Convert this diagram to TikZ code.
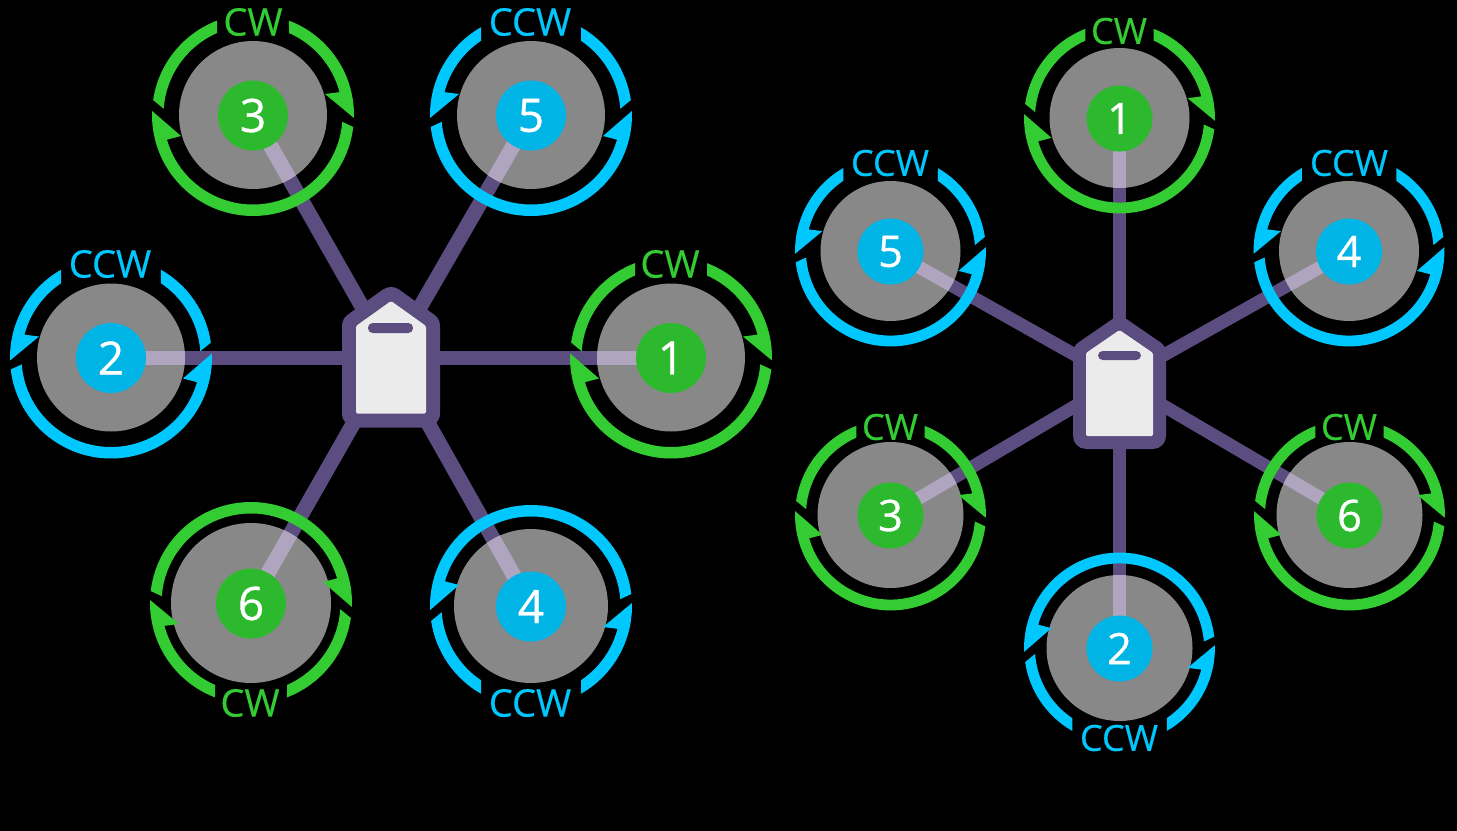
\documentclass[tikz,border=0pt]{standalone}
\usepackage{fontspec}
\setmainfont{Open Sans}
\newfontfamily\digitface[RawFeature={embolden=0.7}]{Open Sans}
\newfontfamily\labelface[RawFeature={embolden=0.4}]{Open Sans}
\definecolor{ringgreen}{HTML}{33CC33}
\definecolor{badgegreen}{HTML}{2DB92D}
\definecolor{ringblue}{HTML}{00C8FF}
\definecolor{badgeblue}{HTML}{00B4E6}
\definecolor{discgray}{HTML}{888888}
\definecolor{armpurple}{HTML}{5C4D80}
\definecolor{armlight}{HTML}{AFA5BE}
\definecolor{hubwhite}{HTML}{EBEBEB}
\tikzset{
  disc/.style={circle,fill=discgray,draw=none,inner sep=0pt},
  badge/.style={circle,draw=none,inner sep=0pt,text=white,yshift=-0.4pt},
  armline/.style={draw=armpurple,line cap=butt},
  armtop/.style={draw=armlight,line cap=butt},
  hubedge/.style={draw=armpurple,fill=armpurple,line join=round},
  hubface/.style={fill=hubwhite,draw=none,rounded corners=1pt},
  hubbar/.style={fill=armpurple,draw=none,rounded corners=3.5pt},
  biglabel/.style={font=\labelface\fontsize{28.5}{29}\selectfont},
  smalllabel/.style={font=\labelface\fontsize{27}{27}\selectfont},
  bigdigit/.style={font=\digitface\fontsize{34.5}{35}\selectfont},
  smalldigit/.style={font=\digitface\fontsize{32.5}{33}\selectfont},
}
% #1 name, #2 hub, #3 x, #4 y, #5 ring scale, #6 disc radius, #7 badge radius,
% #8 ring colour, #9 badge colour
\newcommand{\rotorA}[9]{%
  \coordinate (#1) at (#3,#4);
  \def\rName{#1}\def\rHub{#2}\def\rScale{#5}\def\rDisc{#6}\def\rBadge{#7}\def\rCol{#8}\def\rBCol{#9}%
  \rotorB}
% #1 digit, #2 dir, #3 rotation, #4 gap half width, #5 text, #6 label x, #7 label y, #8 armwidth, #9 size style
\newcommand{\rotorB}[9]{%
  \draw[armline,line width=#8*0.75pt] (\rHub) -- (\rName);
  \node[disc,minimum size=2*\rDisc*0.75pt] (d\rName) at (\rName) {};
  \begin{scope}
    \clip (\rName) circle[radius=\rDisc];
    \draw[armtop,line width=#8*0.75pt] (\rHub) -- (\rName);
  \end{scope}
  \pgfmathsetmacro{\tho}{acos(#4/101)}
  \pgfmathsetmacro{\thi}{acos(#4/89.5)}
  \begin{scope}[shift={(\rName)},yscale=-1,scale=\rScale,xscale=#2,rotate=#3]
    \fill[\rCol] ({180-\tho}:101) arc[start angle={180-\tho},end angle=171.5,radius=101]
      -- (176:89.5) arc[start angle=176,end angle={180-\thi},radius=89.5] -- cycle;
    \fill[\rCol] (\tho:101) arc[start angle=\tho,end angle=-1.7,radius=101]
      -- (72,21) -- (14.8:89.5) arc[start angle=14.8,end angle=\thi,radius=89.5] -- cycle;
    \fill[\rCol] (-6.8:101) arc[start angle=-6.8,end angle=-182.3,radius=101]
      -- (-72,-21) -- (-164:89.5) arc[start angle=-164,end angle=-4.4,radius=89.5] -- cycle;
  \end{scope}
  \node[text=\rCol,inner sep=0pt,#9label] (t\rName) at (#6,#7) {#5};
  \node[badge,fill=\rBCol,minimum size=2*\rBadge*0.75pt,#9digit] (b\rName) at (\rName) {#1};
}
\begin{document}
\begin{tikzpicture}[x=0.75pt,y=-0.75pt]
\fill[black] (0,0) rectangle (1457,831);
\useasboundingbox (0,0) rectangle (1457,831);
\coordinate (hubL) at (391,357.5);
\coordinate (hubR) at (1119.5,380);
% left hexacopter
\rotorA{La}{hubL}{671}{357.5}{1}{74}{35}{ringgreen}{badgegreen}{1}{1}{0}{36}{CW}{670}{264}{14}{big}
\rotorA{Lb}{hubL}{111}{357.5}{1}{74}{35}{ringblue}{badgeblue}{2}{-1}{0}{50}{CCW}{110}{264}{14}{big}
\rotorA{Lc}{hubL}{253}{115}{1}{74}{35}{ringgreen}{badgegreen}{3}{1}{0}{36}{CW}{253}{22}{15}{big}
\rotorA{Ld}{hubL}{531}{606}{1}{77}{35}{ringblue}{badgeblue}{4}{-1}{180}{50}{CCW}{530}{703}{15}{big}
\rotorA{Le}{hubL}{531}{115}{1}{74}{35}{ringblue}{badgeblue}{5}{-1}{0}{50}{CCW}{530}{22}{15}{big}
\rotorA{Lf}{hubL}{251}{603}{1}{80}{35}{ringgreen}{badgegreen}{6}{1}{180}{36}{CW}{250}{703}{15}{big}
% right hexacopter
\rotorA{Ra}{hubR}{1119.5}{118}{0.945}{70}{33}{ringgreen}{badgegreen}{1}{1}{0}{36}{CW}{1119}{31}{13}{small}
\rotorA{Rb}{hubR}{1119.5}{648}{0.945}{73}{33}{ringblue}{badgeblue}{2}{-1}{180}{50}{CCW}{1119}{738}{13}{small}
\rotorA{Rc}{hubR}{890.5}{515}{0.945}{73}{33}{ringgreen}{badgegreen}{3}{1}{0}{36}{CW}{890}{427}{13}{small}
\rotorA{Rd}{hubR}{1349}{251}{0.945}{70}{33}{ringblue}{badgeblue}{4}{-1}{0}{50}{CCW}{1349}{163}{13}{small}
\rotorA{Re}{hubR}{890.5}{251}{0.945}{70}{33}{ringblue}{badgeblue}{5}{-1}{0}{50}{CCW}{890}{163}{13}{small}
\rotorA{Rf}{hubR}{1349.5}{515}{0.945}{73}{33}{ringgreen}{badgegreen}{6}{1}{0}{36}{CW}{1349}{427}{13}{small}
% hubs
\path[hubedge,line width=21pt] (356,326) -- (391,301) -- (426,326) -- (426,413.5) -- (356,413.5) -- cycle;
\path[hubface] (356,326) -- (391,301) -- (426,326) -- (426,413.5) -- (356,413.5) -- cycle;
\path[hubbar] (368,323) rectangle (413,333);
\path[hubedge,line width=19.5pt] (1086,353) -- (1119.5,330) -- (1153,353) -- (1153,436) -- (1086,436) -- cycle;
\path[hubface] (1086,353) -- (1119.5,330) -- (1153,353) -- (1153,436) -- (1086,436) -- cycle;
\path[hubbar] (1098,351) rectangle (1141,360);
\end{tikzpicture}
\end{document}
